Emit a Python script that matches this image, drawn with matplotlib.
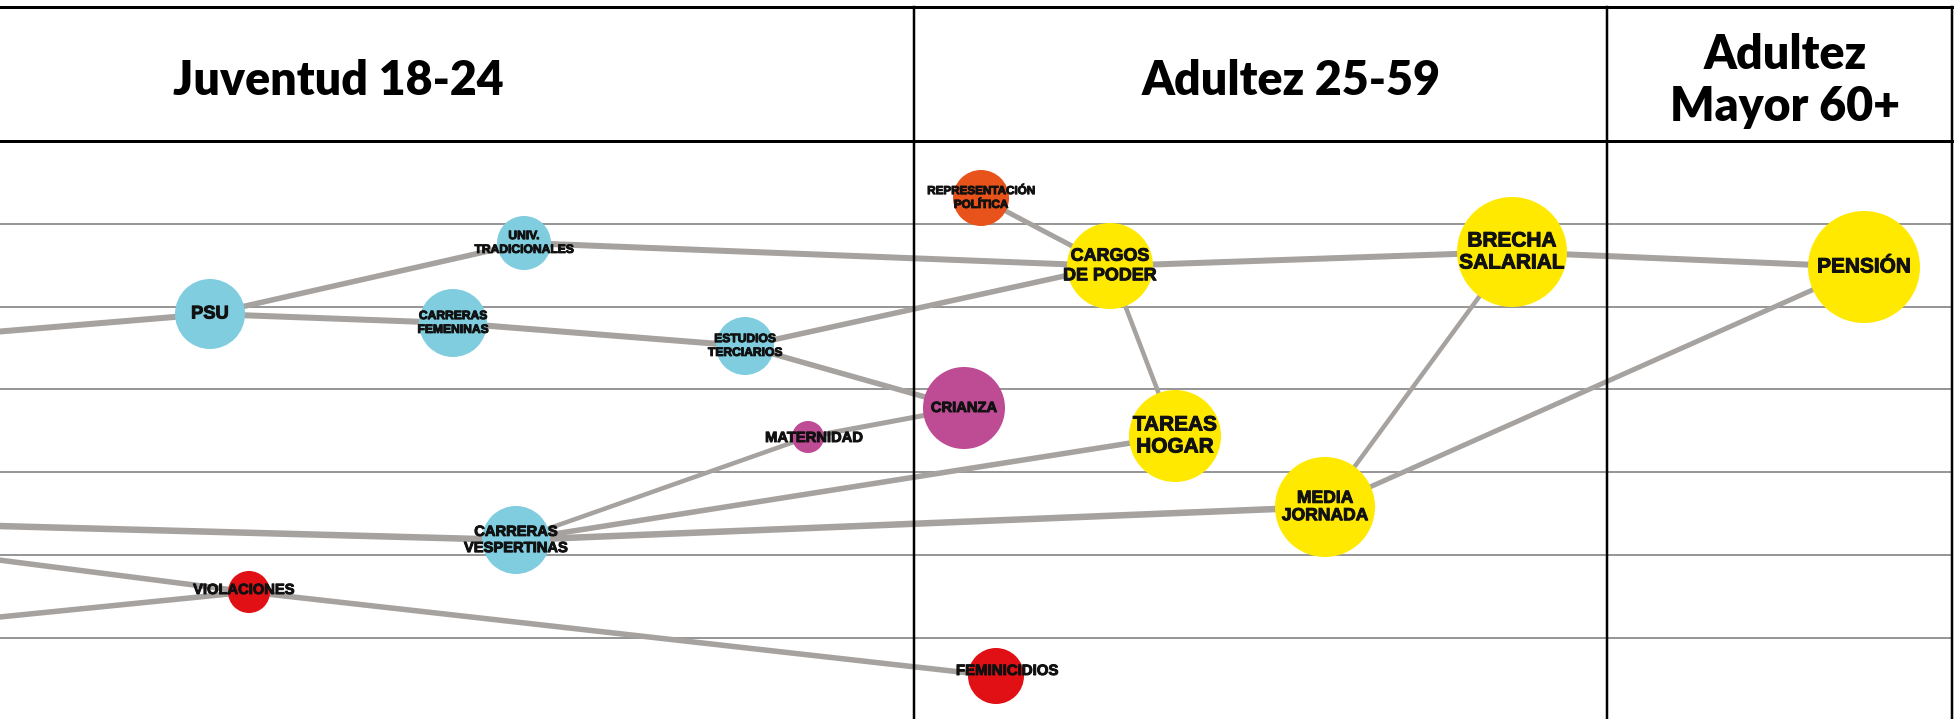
import matplotlib.pyplot as plt
import matplotlib.patheffects as pe
from matplotlib.patches import Circle

# Stages (header cells)
stage_names = ["Juventud 18-24", "Adultez 25-59", "Adultez\nMayor 60+"]
stage_bounds = [0, 914, 1607, 1952]
stage_label_x = [338, 1291, 1785]

# Nodes: label, x, y (pixel scale of the original chart), radius, group
node_ids = ["psu", "univ", "carrf", "estud", "mater", "vesp", "viol",
            "repr", "cargos", "crianza", "tareas", "media", "femin",
            "brecha", "pension"]
node_labels = ["PSU", "UNIV.\nTRADICIONALES", "CARRERAS\nFEMENINAS",
               "ESTUDIOS\nTERCIARIOS", "MATERNIDAD", "CARRERAS\nVESPERTINAS",
               "VIOLACIONES", "REPRESENTACIÓN\nPOLÍTICA", "CARGOS\nDE PODER",
               "CRIANZA", "TAREAS\nHOGAR", "MEDIA\nJORNADA", "FEMINICIDIOS",
               "BRECHA\nSALARIAL", "PENSIÓN"]
node_x = [210, 524, 453, 745, 808, 516, 249, 981, 1110, 964, 1175, 1325, 996, 1512, 1864]
node_y = [314, 243, 323, 346, 437, 540, 592, 198, 266, 408, 436, 507, 676, 252, 267]
node_r = [35, 27, 34, 29, 16, 34, 21, 28, 43, 41, 46, 50, 28, 55, 56]
node_group = ["edu", "edu", "edu", "edu", "care", "edu", "violence",
              "politics", "work", "care", "work", "work", "violence",
              "work", "work"]
label_size = [13.2, 8.7, 8.7, 8.7, 10.6, 10.6, 10.6, 8.4, 12.9, 10.6, 15, 12.6, 10.8, 15, 15]

# sources that lie outside the visible window (left side)
src_ids = ["s1", "s2", "s3", "s4"]
src_x = [-150, -150, -150, -150]
src_y = [344, 522, 541, 632]

# edges: source, target, width (px)
edges = [
    ("s1", "psu", 6), ("psu", "univ", 5.5), ("psu", "carrf", 6),
    ("carrf", "estud", 6), ("univ", "cargos", 6), ("estud", "cargos", 5.5),
    ("estud", "crianza", 5.5), ("repr", "cargos", 5), ("cargos", "brecha", 6),
    ("cargos", "tareas", 4.5), ("brecha", "pension", 6), ("brecha", "media", 4.5),
    ("media", "pension", 5), ("mater", "crianza", 5), ("s2", "vesp", 6.5),
    ("vesp", "mater", 4.5), ("vesp", "tareas", 5.5), ("vesp", "media", 6.5),
    ("s3", "viol", 5.5), ("s4", "viol", 5.5), ("viol", "femin", 5.5),
]

group_colors = {"edu": "#80cde0", "care": "#bd4c95", "violence": "#e11015",
                "politics": "#e8531b", "work": "#ffe900"}
label_offset = {"mater": (6, 1), "viol": (-5, -2), "femin": (11, -5)}

W, H = 1954, 719
fig = plt.figure(figsize=(W / 100, H / 100), dpi=100)
ax = fig.add_axes([0, 0, 1, 1])
ax.set_xlim(0, W)
ax.set_ylim(H, 0)
ax.axis("off")

px = 0.72  # px -> pt at 100 dpi

# row gridlines
header_bottom = 141
row_h = 82.8
for k in range(1, 7):
    yy = header_bottom + k * row_h
    ax.plot([0, stage_bounds[-1]], [yy, yy], color="#8c8c8c", lw=1.8 * px, zorder=1)

# header frame
ax.plot([0, stage_bounds[-1]], [7, 7], color="black", lw=3 * px, zorder=5)
ax.plot([0, stage_bounds[-1]], [header_bottom, header_bottom], color="black", lw=3 * px, zorder=5)
for xb in stage_bounds[1:]:
    ax.plot([xb, xb], [7, H], color="black", lw=2.5 * px, zorder=5)

for name, lx in zip(stage_names, stage_label_x):
    ax.text(lx, 81, name, ha="center", va="center", fontsize=33.5,
            fontfamily="Lato", fontweight="heavy", linespacing=1.2, zorder=6)

pos = {}
for i, nid in enumerate(node_ids):
    pos[nid] = (node_x[i], node_y[i])
for i, sid in enumerate(src_ids):
    pos[sid] = (src_x[i], src_y[i])

for a, b, w in edges:
    (x0, y0), (x1, y1) = pos[a], pos[b]
    ax.plot([x0, x1], [y0, y1], color="#a5a29f", lw=w * px,
            solid_capstyle="butt", zorder=2)

heavy = [pe.withStroke(linewidth=0.7, foreground="#111111")]
for i, nid in enumerate(node_ids):
    ax.add_patch(Circle((node_x[i], node_y[i]), node_r[i],
                        facecolor=group_colors[node_group[i]],
                        edgecolor="none", zorder=3))
    dx, dy = label_offset.get(nid, (0, 0))
    ax.text(node_x[i] + dx, node_y[i] + dy, node_labels[i], ha="center",
            va="center", fontsize=label_size[i], fontfamily="Liberation Sans",
            fontweight="bold", color="#111111", linespacing=1.2, zorder=4,
            path_effects=heavy)

fig.savefig("out.png", dpi=100)
